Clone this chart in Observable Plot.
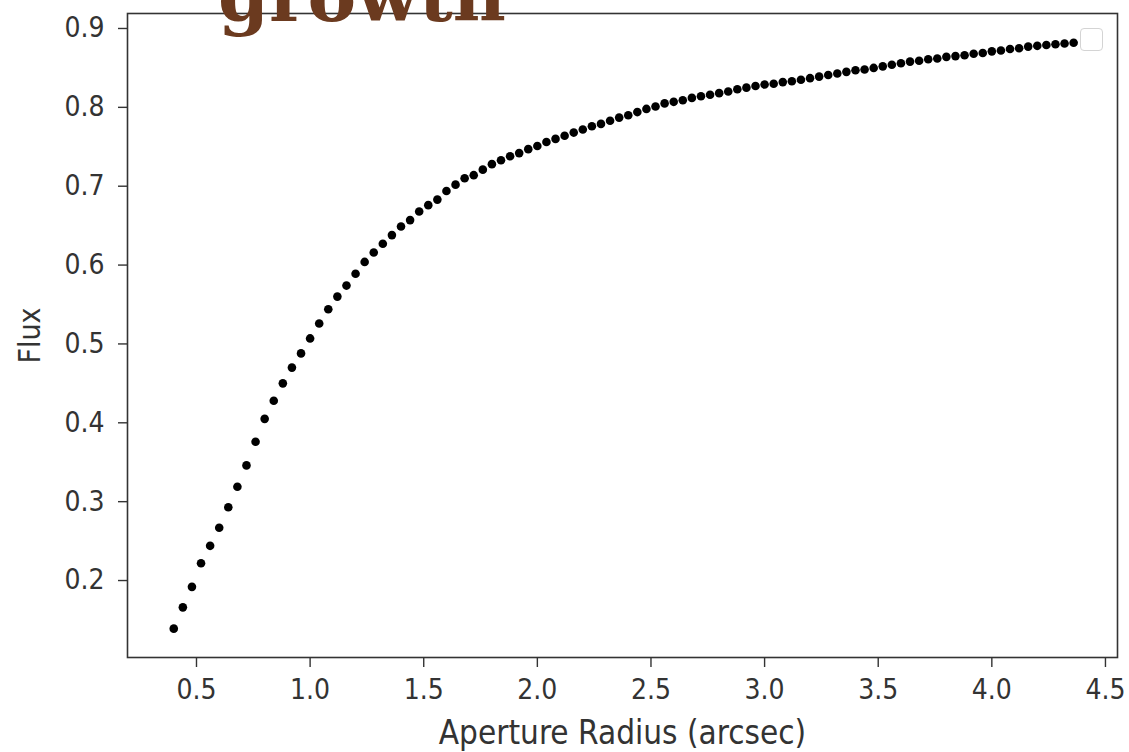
<!DOCTYPE html>
<html>
<head>
<meta charset="utf-8">
<script src="https://cdn.jsdelivr.net/npm/d3@7"></script>
<script src="https://cdn.jsdelivr.net/npm/@observablehq/plot@0.6"></script>
<style>
  html, body { margin: 0; padding: 0; background: #fff; overflow: hidden; }
  #wrap { position: relative; width: 1129px; height: 752px; }
  #title { position: absolute; left: 218px; top: -41px; font-family: "DejaVu Serif", serif; font-weight: bold; font-size: 73px; line-height: 1; color: #6b3a1f; white-space: nowrap; z-index: 2; }
  #legend { position: absolute; left: 1080px; top: 28px; width: 21px; height: 21px; border: 1.5px solid #d4d4d4; border-radius: 4px; background: #fff; z-index: 2; }
  svg text { font-family: "DejaVu Sans Condensed", "DejaVu Sans", sans-serif; }
</style>
</head>
<body>
<div id="wrap">
  <div id="title">growth</div>
  <div id="legend"></div>
</div>
<script>
const radius = [
  0.40,0.44,0.48,0.52,0.56,0.60,0.64,0.68,0.72,0.76,
  0.80,0.84,0.88,0.92,0.96,1.00,1.04,1.08,1.12,1.16,
  1.20,1.24,1.28,1.32,1.36,1.40,1.44,1.48,1.52,1.56,
  1.60,1.64,1.68,1.72,1.76,1.80,1.84,1.88,1.92,1.96,
  2.00,2.04,2.08,2.12,2.16,2.20,2.24,2.28,2.32,2.36,
  2.40,2.44,2.48,2.52,2.56,2.60,2.64,2.68,2.72,2.76,
  2.80,2.84,2.88,2.92,2.96,3.00,3.04,3.08,3.12,3.16,
  3.20,3.24,3.28,3.32,3.36,3.40,3.44,3.48,3.52,3.56,
  3.60,3.64,3.68,3.72,3.76,3.80,3.84,3.88,3.92,3.96,
  4.00,4.04,4.08,4.12,4.16,4.20,4.24,4.28,4.32,4.36
];
const flux = [
  0.139,0.166,0.192,0.222,0.244,0.267,0.293,0.319,0.346,0.376,
  0.405,0.428,0.450,0.470,0.488,0.507,0.526,0.544,0.560,0.574,
  0.589,0.604,0.616,0.627,0.638,0.649,0.657,0.668,0.676,0.683,
  0.694,0.702,0.710,0.714,0.721,0.728,0.733,0.738,0.742,0.747,
  0.751,0.756,0.760,0.764,0.768,0.772,0.776,0.779,0.783,0.787,
  0.790,0.794,0.798,0.801,0.805,0.807,0.809,0.812,0.814,0.816,
  0.818,0.820,0.823,0.825,0.827,0.829,0.830,0.832,0.833,0.835,
  0.837,0.839,0.841,0.843,0.845,0.847,0.848,0.850,0.852,0.854,
  0.856,0.858,0.859,0.861,0.862,0.864,0.865,0.866,0.868,0.869,
  0.871,0.872,0.874,0.875,0.877,0.878,0.879,0.880,0.881,0.882
];
const xTicks = [0.5, 1.0, 1.5, 2.0, 2.5, 3.0, 3.5, 4.0, 4.5];
const yTicks = [0.2, 0.3, 0.4, 0.5, 0.6, 0.7, 0.8, 0.9];
const xLabel = "Aperture Radius (arcsec)";
const yLabel = "Flux";

const data = radius.map((r, i) => ({r, f: flux[i]}));

const chart = Plot.plot({
  width: 1129,
  height: 752,
  marginLeft: 127,
  marginRight: 12,
  marginTop: 13,
  marginBottom: 95,
  style: {fontSize: "28px", color: "#333", background: "transparent", overflow: "visible"},
  x: {domain: [0.1964, 4.553], labelArrow: "none"},
  y: {domain: [0.1024, 0.919], labelArrow: "none"},
  marks: [
    Plot.frame({stroke: "#333", strokeWidth: 1.6}),
    Plot.axisX({ticks: xTicks, tickFormat: d3.format(".1f"), tickSize: 10, tickPadding: 12, stroke: "#333", strokeWidth: 1.4, label: null, fontSize: 28}),
    Plot.axisY({ticks: yTicks, tickFormat: d3.format(".1f"), tickSize: 9, tickPadding: 14, stroke: "#333", strokeWidth: 1.4, label: null, fontSize: 28}),
    Plot.axisX({ticks: [], label: xLabel, labelArrow: "none", labelAnchor: "center", labelOffset: 86, fontSize: 33, tickSize: 0}),
    Plot.axisY({ticks: [], label: yLabel, labelArrow: "none", labelAnchor: "center", labelOffset: 109, fontSize: 30, tickSize: 0}),
    Plot.dot(data, {x: "r", y: "f", r: 4.3, fill: "black", stroke: "none"})
  ]
});
document.getElementById("wrap").appendChild(chart);
chart.style.position = "absolute";
chart.style.left = "0";
chart.style.top = "0";
</script>
</body>
</html>
